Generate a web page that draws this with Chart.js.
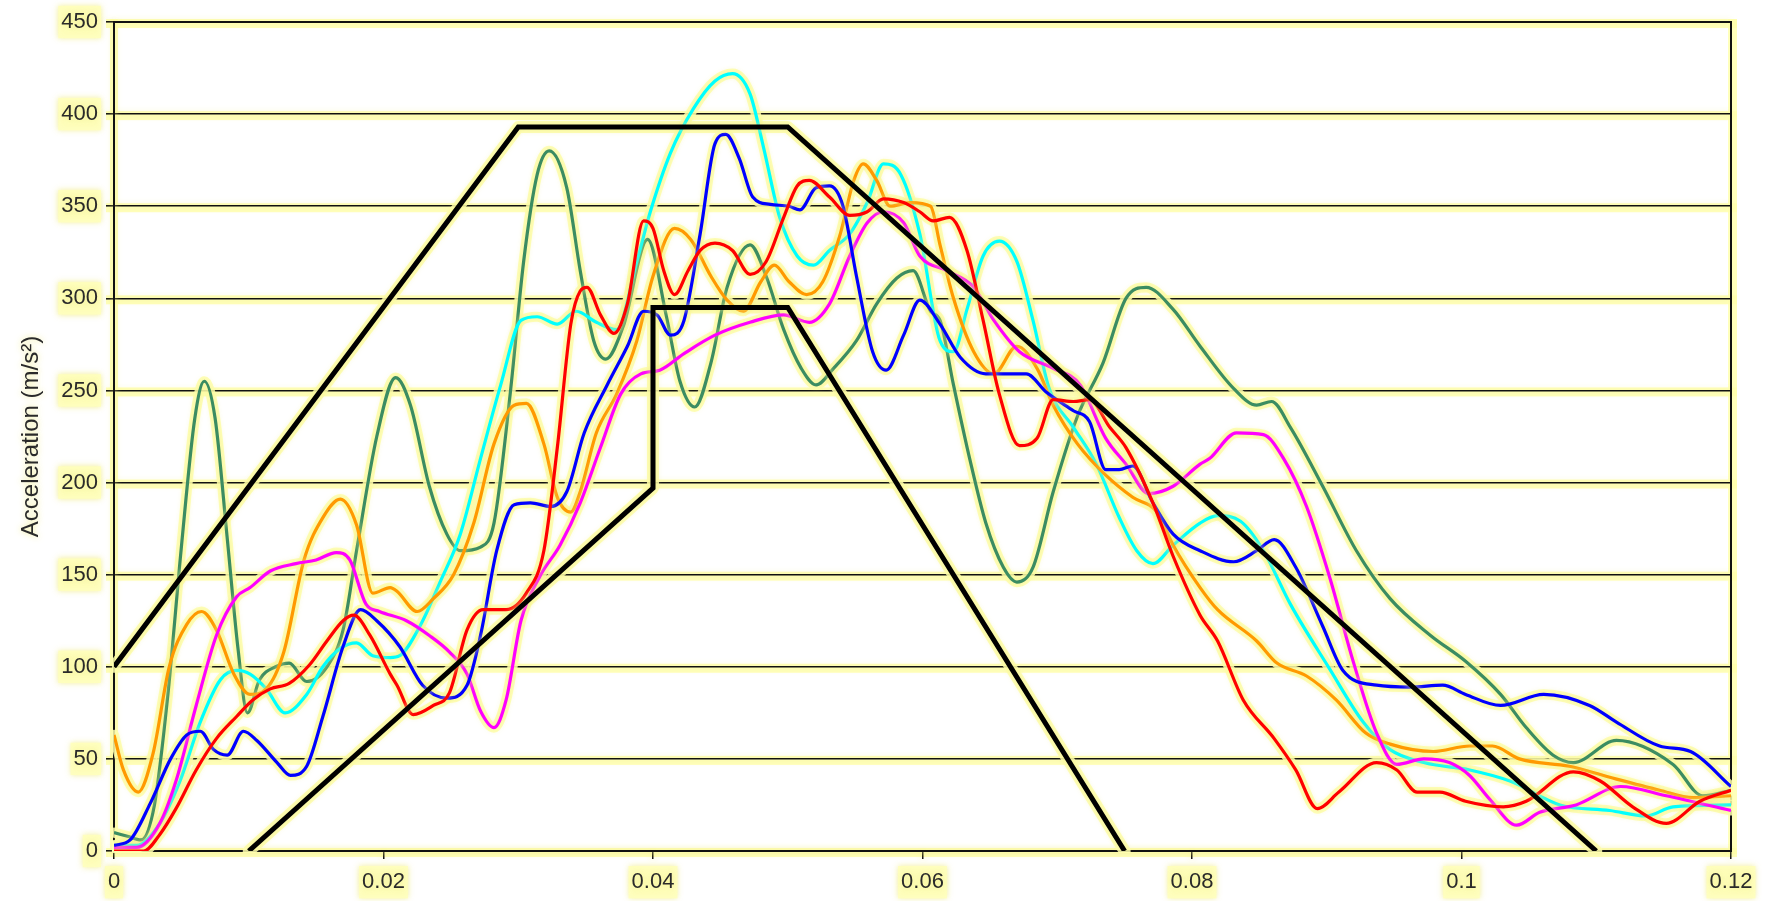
<!DOCTYPE html>
<html>
<head>
<meta charset="utf-8">
<script src="https://cdn.jsdelivr.net/npm/chart.js@4.4.1/dist/chart.umd.min.js"></script>
<style>
html,body{margin:0;padding:0;background:#fff;}
#wrap{width:1767px;height:901px;position:relative;}
</style>
</head>
<body>
<div id="wrap"><canvas id="c"></canvas></div>
<script>
// ---- data (x = time [s], y = acceleration [m/s²]) ----
const xTicks = [0, 0.02, 0.04, 0.06, 0.08, 0.1, 0.12];
const yTicks = [0, 50, 100, 150, 200, 250, 300, 350, 400, 450];

const corridorUpper = [[0,100],[0.03,393],[0.05,393],[0.11,0]];
const corridorLower = [[0.01,0],[0.04,197],[0.04,295],[0.05,295],[0.075,0]];

const green = [[0,10],[0.001,8],[0.002,6],[0.003,25],[0.004,85],[0.005,165],[0.006,235],[0.0067,255],[0.0075,235],[0.0084,170],[0.0092,110],[0.0099,75],[0.0108,93],[0.012,100],[0.013,102],[0.0143,92],[0.0158,100],[0.017,120],[0.018,163],[0.0195,225],[0.0209,257],[0.022,242],[0.0234,198],[0.0247,172],[0.0257,163],[0.0272,165],[0.0282,178],[0.0294,248],[0.0304,320],[0.0314,367],[0.0323,380],[0.0336,360],[0.0346,315],[0.0356,277],[0.0365,267],[0.0378,285],[0.0396,332],[0.041,290],[0.042,255],[0.0431,241],[0.0443,265],[0.0455,306],[0.0472,329],[0.0484,312],[0.0497,283],[0.051,262],[0.0521,253],[0.0534,262],[0.0551,277],[0.0566,297],[0.0581,311],[0.0593,315],[0.0606,293],[0.0613,288],[0.0623,253],[0.0635,213],[0.0647,178],[0.066,154],[0.067,146],[0.0682,154],[0.0697,195],[0.0715,236],[0.0734,265],[0.0751,300],[0.0766,306],[0.0786,294],[0.0806,274],[0.0831,251],[0.0848,242],[0.0859,244],[0.0873,230],[0.0897,198],[0.0922,163],[0.0947,137],[0.0977,117],[0.1003,103],[0.1029,85],[0.1048,67],[0.1068,52],[0.1083,48],[0.1115,60],[0.1157,47],[0.1179,30],[0.12,33]];

const cyan = [[0,3],[0.0017,3],[0.0034,15],[0.0049,38],[0.0064,70],[0.0079,93],[0.0091,98],[0.0101,96],[0.0113,88],[0.0127,75],[0.0143,85],[0.0155,100],[0.0168,110],[0.018,113],[0.0192,106],[0.0205,105],[0.0212,106],[0.0227,122],[0.0242,146],[0.0257,172],[0.0272,213],[0.0287,253],[0.0302,288],[0.0314,290],[0.0329,286],[0.0343,293],[0.0358,287],[0.0373,283],[0.0388,320],[0.0398,347],[0.0413,379],[0.043,403],[0.0446,418],[0.0459,422],[0.0472,411],[0.0482,382],[0.0494,344],[0.0507,323],[0.0519,318],[0.0531,326],[0.0546,335],[0.0559,352],[0.0571,373],[0.0584,367],[0.0598,335],[0.0613,277],[0.0623,271],[0.0633,294],[0.0645,323],[0.0657,331],[0.067,320],[0.0682,288],[0.0694,251],[0.0712,230],[0.0729,210],[0.0746,181],[0.0759,163],[0.0771,156],[0.0786,166],[0.0806,178],[0.0819,182],[0.0836,179],[0.0853,163],[0.0873,134],[0.0902,99],[0.0927,70],[0.0947,55],[0.0972,48],[0.1006,44],[0.1036,38],[0.1073,25],[0.111,22],[0.1137,19],[0.1157,24],[0.12,25]];

const blue = [[0,3],[0.0012,6],[0.0027,26],[0.0042,50],[0.0054,63],[0.0064,65],[0.0074,55],[0.0084,52],[0.0096,65],[0.0106,60],[0.0121,48],[0.0131,41],[0.0143,46],[0.0155,73],[0.017,111],[0.0183,131],[0.0195,125],[0.0212,111],[0.0229,90],[0.0247,83],[0.0262,90],[0.0272,117],[0.0284,163],[0.0297,188],[0.0309,189],[0.0324,187],[0.0336,195],[0.0349,227],[0.0366,253],[0.0381,274],[0.0393,293],[0.0403,291],[0.0413,280],[0.0423,288],[0.0435,335],[0.0446,384],[0.0454,389],[0.0464,376],[0.0474,355],[0.0487,351],[0.0501,350],[0.0509,348],[0.0521,360],[0.0531,361],[0.0541,350],[0.0551,312],[0.0563,271],[0.0573,261],[0.0586,280],[0.0598,299],[0.0613,286],[0.0628,268],[0.0647,259],[0.0677,259],[0.0692,249],[0.0712,239],[0.0724,233],[0.0736,207],[0.0746,207],[0.0756,209],[0.0771,189],[0.0786,172],[0.0806,163],[0.0831,157],[0.0848,163],[0.0861,169],[0.0877,154],[0.0897,122],[0.0912,98],[0.0937,90],[0.0962,89],[0.0986,90],[0.1003,85],[0.1029,79],[0.1061,85],[0.1095,79],[0.1115,70],[0.1147,57],[0.117,54],[0.12,35]];

const orange = [[0,63],[0.0007,44],[0.0018,32],[0.0029,53],[0.0041,100],[0.0054,123],[0.0065,130],[0.0076,120],[0.0089,96],[0.0101,85],[0.0113,88],[0.0126,108],[0.0141,158],[0.0155,181],[0.0168,191],[0.018,177],[0.0192,140],[0.0205,143],[0.021,141],[0.0225,130],[0.0237,137],[0.0252,150],[0.0267,178],[0.0282,221],[0.0297,242],[0.0306,243],[0.0319,221],[0.0329,192],[0.0339,184],[0.0346,195],[0.0358,227],[0.0373,248],[0.0388,277],[0.04,312],[0.0416,338],[0.0428,332],[0.0443,312],[0.0455,299],[0.0467,293],[0.048,309],[0.049,318],[0.0501,309],[0.0514,302],[0.0526,309],[0.0539,335],[0.0549,364],[0.0556,373],[0.0566,364],[0.0576,350],[0.0591,352],[0.0606,350],[0.0613,329],[0.0623,300],[0.0638,271],[0.0653,259],[0.067,274],[0.0685,262],[0.0697,242],[0.0715,221],[0.0736,204],[0.0756,192],[0.0774,184],[0.0786,166],[0.0806,143],[0.0819,131],[0.0848,114],[0.0863,102],[0.0885,95],[0.0907,82],[0.0929,64],[0.0947,58],[0.0979,54],[0.1006,57],[0.1023,57],[0.1043,50],[0.108,46],[0.111,40],[0.1147,33],[0.1172,29],[0.12,30]];

const red = [[0,0],[0.0022,0],[0.0034,9],[0.0046,23],[0.0061,44],[0.0076,61],[0.0091,73],[0.0103,82],[0.0116,88],[0.013,91],[0.0145,101],[0.0158,114],[0.017,125],[0.0178,128],[0.019,117],[0.0205,96],[0.021,90],[0.0222,74],[0.0237,79],[0.0249,86],[0.0262,120],[0.0274,131],[0.0291,131],[0.0306,140],[0.0319,163],[0.0329,219],[0.0339,286],[0.0346,304],[0.0351,306],[0.0361,291],[0.0371,281],[0.0381,297],[0.0393,342],[0.04,338],[0.0408,315],[0.0416,302],[0.0426,315],[0.0435,326],[0.0446,330],[0.0459,326],[0.0472,313],[0.0484,320],[0.0497,344],[0.0507,361],[0.0516,364],[0.0531,355],[0.0546,345],[0.0559,347],[0.0571,354],[0.0586,352],[0.0598,347],[0.0608,342],[0.062,344],[0.0633,326],[0.0645,288],[0.0657,248],[0.0672,220],[0.0685,224],[0.0697,245],[0.0712,244],[0.0724,245],[0.0739,230],[0.0751,219],[0.0771,189],[0.0786,160],[0.0806,128],[0.0819,114],[0.0838,82],[0.0861,61],[0.0877,44],[0.0893,23],[0.0909,32],[0.0937,48],[0.0952,44],[0.0967,32],[0.0984,32],[0.1003,27],[0.1031,24],[0.1048,27],[0.1083,43],[0.1103,38],[0.1127,24],[0.1152,15],[0.1177,27],[0.12,33]];

const magenta = [[0,2],[0.0017,2],[0.0034,15],[0.0046,38],[0.0061,79],[0.0076,117],[0.0091,138],[0.0101,143],[0.0116,152],[0.0135,156],[0.015,158],[0.0165,162],[0.0175,158],[0.0187,134],[0.0197,130],[0.0217,125],[0.0234,117],[0.0249,108],[0.0262,96],[0.0272,76],[0.0282,67],[0.0291,82],[0.0302,125],[0.0316,149],[0.0331,166],[0.0346,189],[0.0361,219],[0.0376,248],[0.0391,259],[0.0405,261],[0.0423,270],[0.0446,280],[0.0472,287],[0.0497,291],[0.0516,287],[0.0531,297],[0.0546,323],[0.0559,341],[0.0571,347],[0.0586,341],[0.0598,323],[0.0618,315],[0.0638,306],[0.0653,288],[0.0672,271],[0.0697,262],[0.0717,253],[0.0736,224],[0.0751,210],[0.0768,194],[0.0786,198],[0.0806,210],[0.0813,213],[0.0833,227],[0.0853,226],[0.0868,213],[0.0885,187],[0.0902,149],[0.092,102],[0.0937,64],[0.0952,47],[0.0972,50],[0.0991,48],[0.1006,41],[0.1021,28],[0.1041,14],[0.1058,21],[0.1085,25],[0.1118,35],[0.1152,30],[0.12,22]];

const toXY = arr => arr.map(p => ({x: p[0], y: p[1]}));

const FONT = "'Liberation Sans', Arial, sans-serif";
const HALO = 'rgba(255,255,175,0.85)';

function curve(data, color, order) {
  return {data: toXY(data), borderColor: color, borderWidth: 3.2, pointRadius: 0,
          cubicInterpolationMode: 'monotone', fill: false, order: order};
}
function corridor(data) {
  return {data: toXY(data), borderColor: '#000', borderWidth: 5, pointRadius: 0,
          tension: 0, fill: false, order: 0, borderJoinStyle: 'miter'};
}

const halo = {
  id: 'halo',
  beforeDraw(c) {
    const {ctx, chartArea: a, scales: {y}} = c;
    ctx.save();
    ctx.fillStyle = HALO;
    yTicks.forEach(v => {
      const py = y.getPixelForValue(v);
      ctx.fillRect(a.left - 8, py - 3, a.right - a.left + 14, 9);
    });
    ctx.fillRect(a.left - 4, a.top - 3, 8, a.bottom - a.top + 6);
    ctx.fillRect(a.right - 3, a.top - 3, 9, a.bottom - a.top + 6);
    ctx.restore();
    ctx.shadowColor = 'rgba(240,235,130,0.9)';
    ctx.shadowBlur = 6;
  },
  beforeDatasetsDraw(c) {
    const {ctx, chartArea: a} = c;
    ctx.save();
    ctx.shadowColor = 'rgba(0,0,0,0)'; ctx.shadowBlur = 0;
    ctx.strokeStyle = '#111'; ctx.lineWidth = 2;
    ctx.strokeRect(a.left, a.top, a.right - a.left, a.bottom - a.top);
    ctx.beginPath();
    ctx.rect(a.left - 2, a.top - 2, a.right - a.left + 4, a.bottom - a.top + 4);
    ctx.clip();
    ctx.lineJoin = 'round'; ctx.lineCap = 'round';
    c.getSortedVisibleDatasetMetas().forEach(meta => {
      const line = meta.dataset;
      if (!line) return;
      line.updateControlPoints(a, meta.iScale.axis);
      ctx.beginPath();
      line.path(ctx);
      ctx.strokeStyle = HALO;
      ctx.lineWidth = line.options.borderWidth + 7;
      ctx.stroke();
    });
    ctx.restore();
  },
  afterDraw(c) { c.ctx.shadowColor = 'rgba(0,0,0,0)'; c.ctx.shadowBlur = 0; }
};

new Chart(document.getElementById('c'), {
  type: 'line',
  data: {
    datasets: [
      corridor(corridorUpper),
      corridor(corridorLower),
      curve(red, '#FF0000', 1),
      curve(blue, '#0000FF', 2),
      curve(magenta, '#FF00FF', 3),
      curve(orange, '#FF9900', 4),
      curve(cyan, '#00FFFF', 5),
      curve(green, '#3B8C62', 6)
    ]
  },
  options: {
    responsive: true,
    maintainAspectRatio: false,
    animation: false,
    layout: {padding: {top: 22, right: 36, left: 0, bottom: 0}},
    plugins: {legend: {display: false}, tooltip: {enabled: false}},
    scales: {
      x: {
        type: 'linear', min: 0, max: 0.12,
        afterBuildTicks: s => { s.ticks = xTicks.map(v => ({value: v})); },
        afterFit: s => { s.height = 50; },
        grid: {drawOnChartArea: false, drawTicks: true, tickLength: 8, color: '#111', lineWidth: 1.5},
        border: {display: true, color: '#111', width: 2},
        ticks: {color: '#2a2a2a', padding: 10, maxRotation: 0, autoSkip: false,
                font: {family: FONT, size: 22},
                showLabelBackdrop: true, backdropColor: 'rgba(255,255,190,0.9)', backdropPadding: 3,
                callback: v => String(+(+v).toFixed(2))}
      },
      y: {
        min: 0, max: 450,
        afterBuildTicks: s => { s.ticks = yTicks.map(v => ({value: v})); },
        afterFit: s => { s.width = 114; },
        grid: {color: '#111', lineWidth: 1.6, tickLength: 8},
        border: {display: true, color: '#111', width: 2},
        ticks: {color: '#2a2a2a', padding: 8, font: {family: FONT, size: 22},
                showLabelBackdrop: true, backdropColor: 'rgba(255,255,190,0.9)', backdropPadding: 3},
        title: {display: true, text: 'Acceleration (m/s²)', color: '#2a2a2a',
                padding: {top: 17, bottom: 0}, font: {family: FONT, size: 24}}
      }
    }
  },
  plugins: [halo]
});
</script>
</body>
</html>
